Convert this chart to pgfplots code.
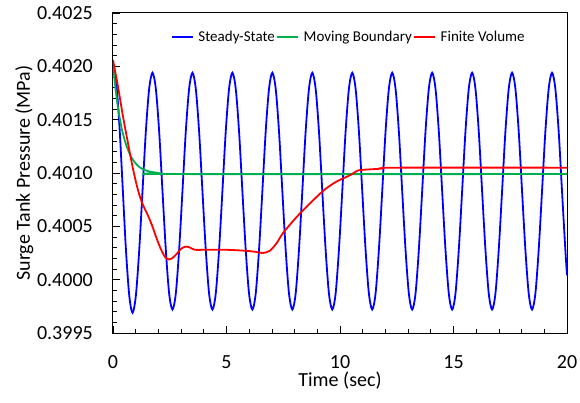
\documentclass[border=0pt]{standalone}
\usepackage{fontspec}
\setmainfont{Carlito}
\usepackage{pgfplots}
\pgfplotsset{compat=1.18}
\usepackage{pgfplotstable}
\definecolor{ssblue}{RGB}{0,0,255}
\definecolor{mbgreen}{RGB}{0,176,80}
\definecolor{fvred}{RGB}{255,0,0}

\pgfplotstableread{
t y
0 0.40201
0.143 0.40185
0.287 0.40143
0.43 0.40085
0.573 0.40027
0.717 0.39985
0.86 0.39969
1.007 0.39985
1.153 0.40027
1.30 0.40083
1.447 0.40139
1.593 0.40179
1.74 0.40194
1.887 0.40179
2.033 0.40139
2.18 0.40083
2.327 0.40028
2.473 0.39987
2.62 0.39972
2.767 0.39987
2.913 0.40028
3.06 0.40083
3.207 0.40139
3.353 0.40179
3.5 0.40194
3.647 0.40179
3.793 0.40139
3.94 0.40083
4.087 0.40028
4.233 0.39987
4.38 0.39972
4.527 0.39987
4.673 0.40028
4.82 0.40083
4.967 0.40139
5.113 0.40179
5.26 0.40194
5.407 0.40179
5.553 0.40139
5.7 0.40083
5.847 0.40028
5.993 0.39987
6.14 0.39972
6.287 0.39987
6.433 0.40028
6.58 0.40083
6.727 0.40139
6.873 0.40179
7.02 0.40194
7.167 0.40179
7.313 0.40139
7.46 0.40083
7.607 0.40028
7.753 0.39987
7.9 0.39972
8.047 0.39987
8.193 0.40028
8.34 0.40083
8.487 0.40139
8.633 0.40179
8.78 0.40194
8.927 0.40179
9.073 0.40139
9.22 0.40083
9.367 0.40028
9.513 0.39987
9.66 0.39972
9.807 0.39987
9.953 0.40028
10.1 0.40083
10.247 0.40139
10.393 0.40179
10.54 0.40194
10.687 0.40179
10.833 0.40139
10.98 0.40083
11.127 0.40028
11.273 0.39987
11.42 0.39972
11.567 0.39987
11.713 0.40028
11.86 0.40083
12.007 0.40139
12.153 0.40179
12.3 0.40194
12.447 0.40179
12.593 0.40139
12.74 0.40083
12.887 0.40028
13.033 0.39987
13.18 0.39972
13.327 0.39987
13.473 0.40028
13.62 0.40083
13.767 0.40139
13.913 0.40179
14.06 0.40194
14.207 0.40179
14.353 0.40139
14.5 0.40083
14.647 0.40028
14.793 0.39987
14.94 0.39972
15.087 0.39987
15.233 0.40028
15.38 0.40083
15.527 0.40139
15.673 0.40179
15.82 0.40194
15.967 0.40179
16.113 0.40139
16.26 0.40083
16.407 0.40028
16.553 0.39987
16.7 0.39972
16.847 0.39987
16.993 0.40028
17.14 0.40083
17.287 0.40139
17.433 0.40179
17.58 0.40194
17.727 0.40179
17.873 0.40139
18.02 0.40083
18.167 0.40028
18.313 0.39987
18.46 0.39972
18.607 0.39987
18.753 0.40028
18.9 0.40083
19.047 0.40139
19.193 0.40179
19.34 0.40194
19.487 0.40179
19.633 0.40139
19.78 0.40083
19.927 0.40028
20.0 0.40004
}\steadystate

\pgfplotstableread{
t y
0 0.40203
0.1 0.40181
0.2 0.40164
0.3 0.40151
0.4 0.40140
0.5 0.40132
0.6 0.40125
0.8 0.40115
1.0 0.40109
1.2 0.40105
1.5 0.40102
2.0 0.40100
2.5 0.40099
20 0.40099
}\movingboundary

\pgfplotstableread{
t y
0 0.40206
0.22 0.40181
0.44 0.40153
0.66 0.40128
0.88 0.40104
1.1 0.40084
1.3 0.40071
1.5 0.40062
1.7 0.40052
1.9 0.40040
2.1 0.40029
2.3 0.40021
2.45 0.40019
2.6 0.40020
2.8 0.40024
3.0 0.40029
3.2 0.40031
3.4 0.40030
3.6 0.40028
4.0 0.40028
5.0 0.40028
5.9 0.40027
6.3 0.40026
6.6 0.40025
6.9 0.40027
7.2 0.40034
7.5 0.40044
8.1 0.40059
8.7 0.40072
9.3 0.40084
9.85 0.40092
10.45 0.40098
10.75 0.40102
11.0 0.40103
11.8 0.40104
12.5 0.40105
20 0.40105
}\finitevolume

\begin{document}
\begin{tikzpicture}
\begin{axis}[
  at={(0pt,0pt)}, anchor=south west,
  scale only axis, width=454pt, height=320pt,
  xmin=0, xmax=20, ymin=0.3995, ymax=0.4025,
  xtick={0,5,10,15,20},
  ytick={0.3995,0.4,0.4005,0.401,0.4015,0.402,0.4025},
  minor x tick num=4, minor y tick num=4,
  xtick pos=bottom, ytick pos=left, tick align=inside,
  major tick length=7pt, minor tick length=4pt,
  every tick/.style={black, line width=0.8pt},
  axis line style={black, line width=1pt},
  scaled y ticks=false, scaled x ticks=false,
  /pgf/number format/assume math mode=true,
  yticklabel style={/pgf/number format/fixed, /pgf/number format/fixed zerofill, /pgf/number format/precision=4,
    font=\fontsize{20}{24}\selectfont, inner sep=0pt, xshift=-20pt},
  xticklabel style={font=\fontsize{20}{24}\selectfont, inner sep=0pt, yshift=-22pt},
  xlabel={Time (sec)},
  ylabel={Surge Tank Pressure (MPa)},
  xlabel style={font=\fontsize{20}{24}\selectfont, inner sep=0pt, at={(axis description cs:0.5,-0.122)}, anchor=north},
  ylabel style={font=\fontsize{20}{24}\selectfont, inner sep=0pt, at={(axis description cs:-0.2159,0.5)}, anchor=north},
  legend columns=-1,
  legend style={at={(axis description cs:0.518,0.925)}, anchor=center, draw=none, fill=none,
    font=\fontsize{15}{18}\selectfont, inner sep=0pt, nodes={inner sep=1pt},
    /tikz/every odd column/.append style={column sep=4pt}},
  legend image code/.code={\draw[#1] (0pt,0pt) -- (21pt,0pt);},
]
\addplot[ssblue, line width=1.8pt, smooth] table[x=t,y=y] {\steadystate};
\addlegendentry{Steady-State}
\addplot[mbgreen, line width=1.8pt, smooth] table[x=t,y=y] {\movingboundary};
\addlegendentry{Moving Boundary}
\addplot[fvred, line width=1.8pt, smooth] table[x=t,y=y] {\finitevolume};
\addlegendentry{Finite Volume}
\end{axis}
\pgfresetboundingbox
\useasboundingbox (-113pt,-69pt) rectangle (467pt,333pt);
\end{tikzpicture}
\end{document}
